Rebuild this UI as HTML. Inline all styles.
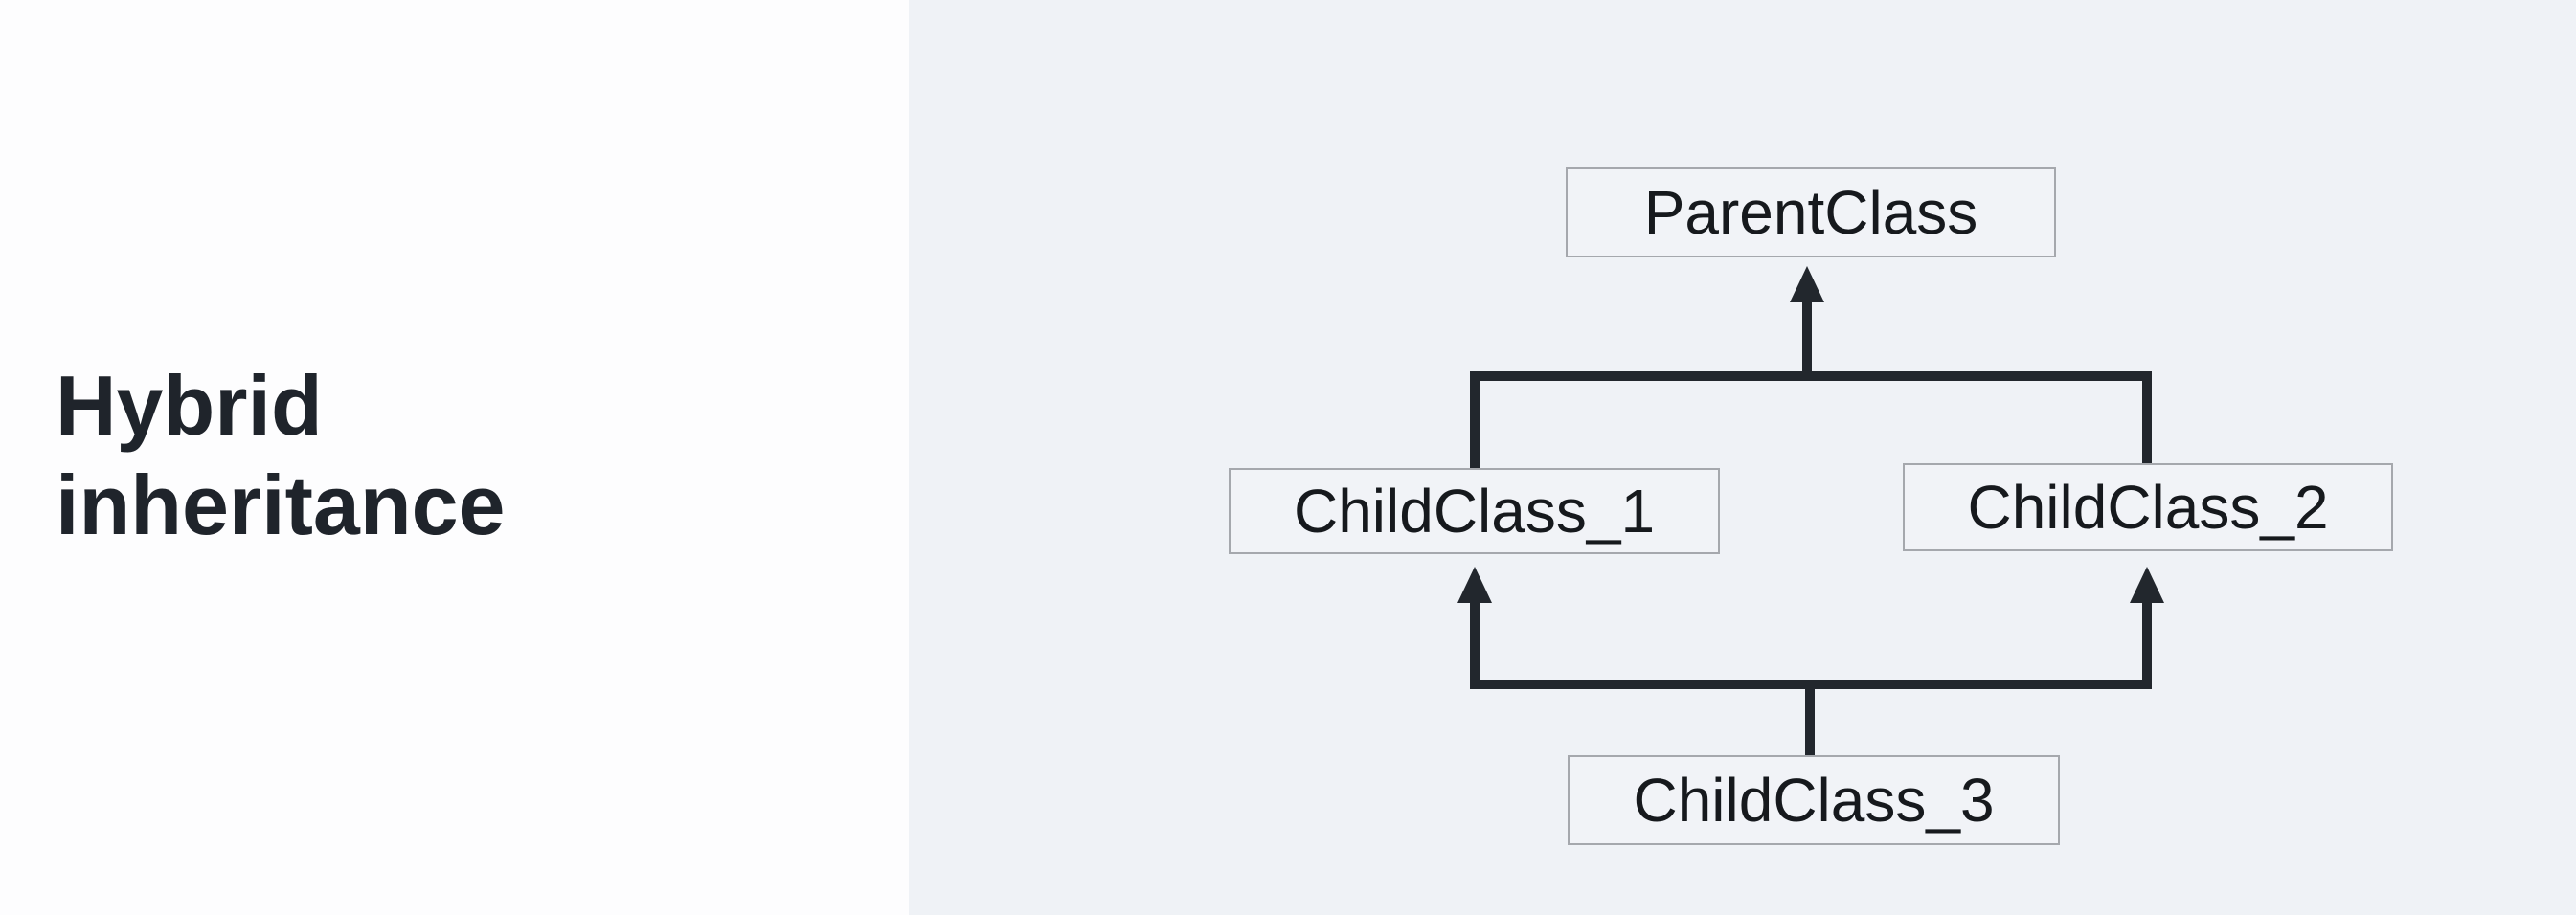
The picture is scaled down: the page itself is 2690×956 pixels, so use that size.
<!DOCTYPE html>
<html><head><meta charset="utf-8"><style>
html,body{margin:0;padding:0;}
body{width:2690px;height:956px;overflow:hidden;background:#eff2f6;position:relative;font-family:"Liberation Sans",sans-serif;}
.left{position:absolute;left:0;top:0;width:949px;height:956px;background:#fdfdfe;}
.title{position:absolute;left:58px;top:372px;font-size:88px;font-weight:bold;color:#1f242b;line-height:104px;}
.box{position:absolute;background:#f1f3f7;border:2px solid #a5a8ad;box-sizing:border-box;display:flex;align-items:center;justify-content:center;font-size:64px;color:#16191d;}
</style></head><body>
<div class="left"></div>
<div class="title">Hybrid<br>inheritance</div>
<svg width="2690" height="956" style="position:absolute;left:0;top:0">
<g stroke="#22272d" stroke-width="10" fill="none">
<path d="M1887 312 V393 M1540 489 V393 H2242 V484"/>
<path d="M1540 626 V715 H2242 V626 M1890 715 V789"/>
</g>
<g fill="#22272d">
<polygon points="1887,278 1869,316 1905,316"/>
<polygon points="1540,592 1522,630 1558,630"/>
<polygon points="2242,592 2224,630 2260,630"/>
</g>
</svg>
<div class="box" style="left:1635px;top:175px;width:512px;height:94px;">ParentClass</div>
<div class="box" style="left:1283px;top:489px;width:513px;height:90px;">ChildClass_1</div>
<div class="box" style="left:1987px;top:484px;width:512px;height:92px;">ChildClass_2</div>
<div class="box" style="left:1637px;top:789px;width:514px;height:94px;">ChildClass_3</div>
</body></html>
